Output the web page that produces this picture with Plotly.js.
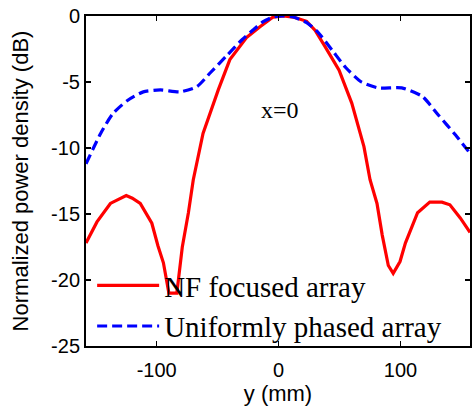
<!DOCTYPE html>
<html>
<head>
<meta charset="utf-8">
<script src="https://cdn.plot.ly/plotly-3.0.1.min.js"></script>
<style>
html, body { margin: 0; padding: 0; background: #fff; }
#chart { width: 472px; height: 409px; }
</style>
</head>
<body>
<div id="chart"></div>
<script>
// NF focused array (red solid)
var nfX = [-158, -149, -138, -130, -125, -120, -113.5, -104, -99, -94.5, -90, -83.5, -79, -74, -70, -62, -49.5, -40, -26, -15, -4.5, 4, 12, 23, 30, 38, 49.6, 60, 70, 75, 80.7, 85, 90, 94, 99.6, 104, 114, 124, 134, 140.5, 149, 157];
var nfY = [-17.2, -15.6, -14.2, -13.8, -13.6, -13.8, -14.2, -15.7, -17.4, -18.7, -21, -21, -17.5, -14.9, -12.4, -8.9, -5.6, -3.3, -1.6, -0.8, -0.08, 0, -0.08, -0.4, -1.1, -2.3, -4.1, -6.6, -9.9, -12.4, -14.2, -16.6, -18.9, -19.5, -18.6, -17.2, -14.9, -14.1, -14.1, -14.3, -15.3, -16.4];

// Uniformly phased array (blue dashed)
var upX = [-158, -146, -136, -124, -111, -97, -81, -67, -56, -42, -30, -21, -13, -4.5, 4, 12, 23, 32, 44, 55, 68, 82, 101, 118, 131, 145, 157];
var upY = [-11.2, -8.9, -7.4, -6.4, -5.75, -5.6, -5.75, -5.35, -4.3, -2.95, -1.8, -1.06, -0.45, -0.08, 0, -0.08, -0.5, -1.2, -2.6, -3.9, -5.0, -5.45, -5.45, -6.1, -7.5, -9.0, -10.4];

var seriesNames = ["NF focused array", "Uniformly phased array"];
var xTicks = [-100, 0, 100];
var yTicks = [-25, -20, -15, -10, -5, 0];

var traces = [
  { x: nfX, y: nfY, type: 'scatter', mode: 'lines', name: seriesNames[0],
    line: { color: '#ff0000', width: 3.2 } },
  { x: upX, y: upY, type: 'scatter', mode: 'lines', name: seriesNames[1],
    line: { color: '#0000ff', width: 3.2, dash: '10px,5px', shape: 'spline', smoothing: 0.6 } }
];

var axisCommon = {
  showgrid: false, zeroline: false, showline: true, linecolor: '#000', linewidth: 2,
  mirror: 'ticks', ticks: 'inside', ticklen: 5, tickwidth: 1.5, tickcolor: '#000',
  tickfont: { family: 'Liberation Sans, Arial, sans-serif', size: 20, color: '#000' }
};

var layout = {
  width: 472, height: 409,
  margin: { l: 86, r: 2, t: 16, b: 63 },
  paper_bgcolor: '#fff', plot_bgcolor: '#fff',
  showlegend: true,
  legend: {
    x: 0.016, y: -0.018, xanchor: 'left', yanchor: 'bottom',
    bgcolor: 'rgba(0,0,0,0)', borderwidth: 0,
    font: { family: 'Liberation Serif, Times New Roman, serif', size: 29, color: '#000' },
    itemwidth: 62, tracegroupgap: 0
  },
  xaxis: Object.assign({}, axisCommon, {
    range: [-158, 157], tickvals: xTicks, ticktext: xTicks.map(String),
    ticklabelstandoff: 5,
    title: { text: 'y (mm)', font: { family: 'Liberation Sans, Arial, sans-serif', size: 22, color: '#000' }, standoff: 6 }
  }),
  yaxis: Object.assign({}, axisCommon, {
    range: [-25, 0], tickvals: yTicks, ticktext: yTicks.map(String),
    title: { text: 'Normalized power density (dB)', font: { family: 'Liberation Sans, Arial, sans-serif', size: 22, color: '#000' }, standoff: 16 }
  }),
  annotations: [
    { x: 1, y: -7.1, xref: 'x', yref: 'y', text: 'x=0', showarrow: false,
      font: { family: 'Liberation Serif, Times New Roman, serif', size: 24, color: '#000' } }
  ]
};

Plotly.newPlot('chart', traces, layout, { staticPlot: true, displayModeBar: false });
</script>
</body>
</html>
